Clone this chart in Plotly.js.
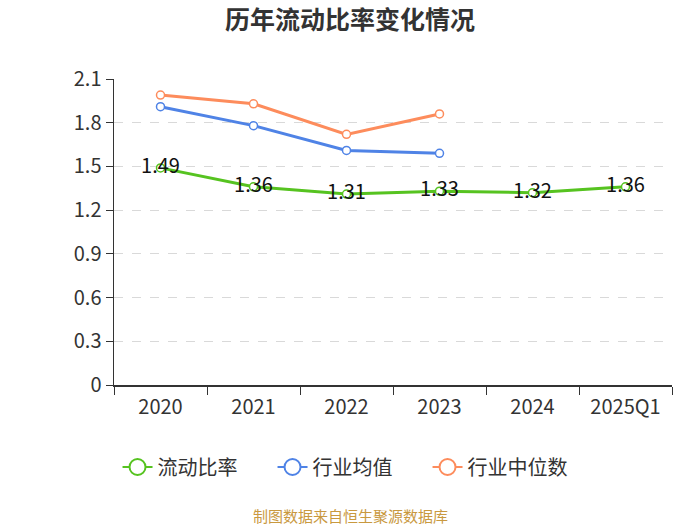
<!DOCTYPE html>
<html>
<head>
<meta charset="utf-8">
<script src="https://cdn.plot.ly/plotly-3.0.1.min.js"></script>
<style>html,body{margin:0;padding:0;background:#fff;}#chart{width:700px;height:525px;}</style>
</head>
<body>
<div id="chart"></div>
<script>
const categories = ["2020", "2021", "2022", "2023", "2024", "2025Q1"];
const currentRatio = [1.49, 1.36, 1.31, 1.33, 1.32, 1.36];
const industryAvg = [1.91, 1.78, 1.61, 1.59, null, null];
const industryMedian = [1.99, 1.93, 1.72, 1.86, null, null];
const seriesNames = ["流动比率", "行业均值", "行业中位数"];
const seriesColors = ["#56c320", "#4f83e6", "#fd8c5c"];
const yTicks = [0, 0.3, 0.6, 0.9, 1.2, 1.5, 1.8, 2.1];
const yTickText = ["0", "0.3", "0.6", "0.9", "1.2", "1.5", "1.8", "2.1"];

const font = "'Noto Sans CJK SC', 'Noto Sans', sans-serif";

function line(name, y, color, withText) {
  return {
    type: "scatter",
    mode: withText ? "lines+markers+text" : "lines+markers",
    name: name,
    x: categories,
    y: y,
    showlegend: false,
    line: {color: color, width: 3},
    marker: {symbol: "circle", size: 8, color: "#fff", line: {color: color, width: 1.5}},
    text: withText ? y.map(v => v.toFixed(2)) : undefined,
    textposition: "middle center",
    textfont: {family: font, size: 20, color: "#111"},
    cliponaxis: false,
    connectgaps: false,
    hoverinfo: "x+y"
  };
}

function legendItem(name, color) {
  return {
    type: "scatter",
    mode: "lines+markers",
    name: name,
    x: [null],
    y: [null],
    showlegend: true,
    line: {color: color, width: 2},
    marker: {symbol: "circle", size: 16, color: "#fff", line: {color: color, width: 2}}
  };
}

const data = [
  line(seriesNames[2], industryMedian, seriesColors[2], false),
  line(seriesNames[1], industryAvg, seriesColors[1], false),
  line(seriesNames[0], currentRatio, seriesColors[0], true),
  legendItem(seriesNames[0], seriesColors[0]),
  legendItem(seriesNames[1], seriesColors[1]),
  legendItem(seriesNames[2], seriesColors[2])
];

const layout = {
  width: 700,
  height: 525,
  margin: {l: 114, r: 28, t: 79, b: 140},
  paper_bgcolor: "#fff",
  plot_bgcolor: "#fff",
  title: {text: "<b>历年流动比率变化情况</b>", x: 0.5, xanchor: "center", y: 0.962, yanchor: "middle",
          font: {family: font, size: 25, color: "#333"}},
  showlegend: true,
  legend: {orientation: "h", x: 0.423, xanchor: "center", y: -0.268, yanchor: "middle",
           font: {family: font, size: 20, color: "#333"}, entrywidth: 110, entrywidthmode: "pixels"},
  xaxis: {
    type: "category",
    range: [-0.5, 5.5],
    tickson: "boundaries",
    ticks: "outside",
    ticklen: 8,
    tickcolor: "#333",
    ticklabelstandoff: 3,
    showline: true,
    linecolor: "#333",
    linewidth: 1.5,
    showgrid: false,
    zeroline: false,
    tickfont: {family: font, size: 20, color: "#333"},
    fixedrange: true
  },
  yaxis: {
    range: [0, 2.1],
    tickvals: yTicks,
    ticktext: yTickText,
    ticks: "outside",
    ticklen: 7,
    tickcolor: "#333",
    showline: true,
    linecolor: "#333",
    linewidth: 1.5,
    showgrid: true,
    gridcolor: "#d9d9d9",
    griddash: "dash",
    zeroline: false,
    tickfont: {family: font, size: 20, color: "#333"},
    fixedrange: true
  },
  annotations: [{
    text: "制图数据来自恒生聚源数据库",
    xref: "paper", yref: "paper", x: 0.423, y: -0.428, xanchor: "center", yanchor: "middle",
    showarrow: false, font: {family: font, size: 15, color: "#c9993f"}
  }]
};

Plotly.newPlot("chart", data, layout, {displayModeBar: false, staticPlot: true});
</script>
</body>
</html>
